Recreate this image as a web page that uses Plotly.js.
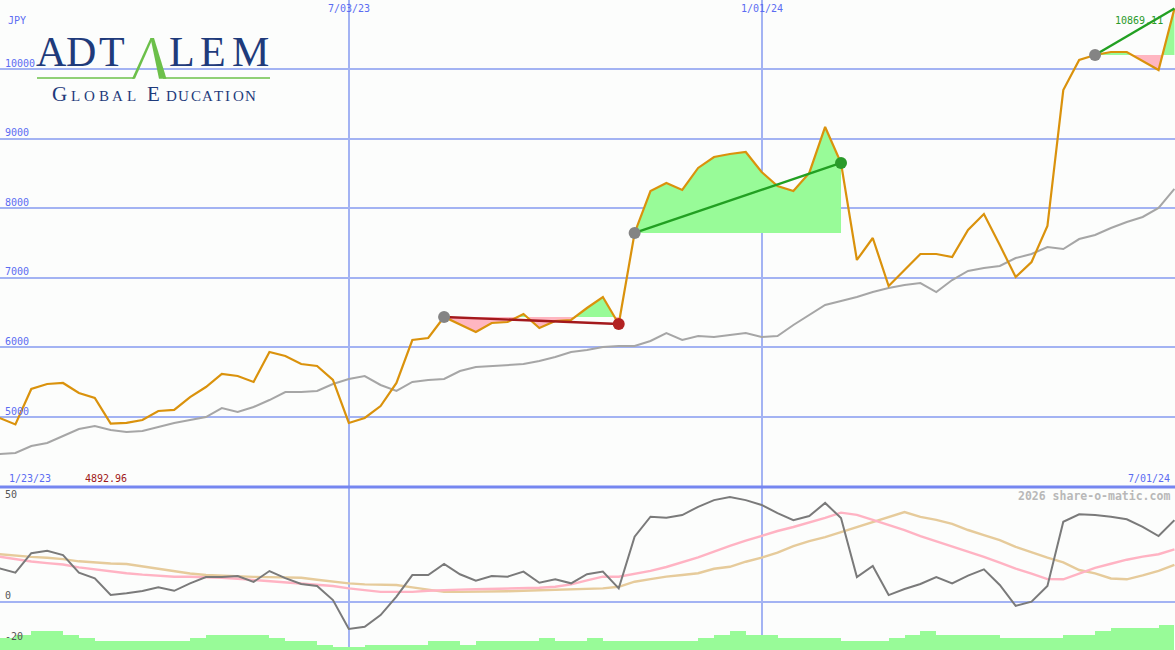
<!DOCTYPE html>
<html><head><meta charset="utf-8">
<script src="https://cdn.plot.ly/plotly-3.0.1.min.js"></script>
<style>html,body{margin:0;padding:0;background:#fcfdfc;} #chart{width:1175px;height:650px;}</style>
</head><body><div id="chart"></div>
<script>
// ---- data ----
const weeks = ['2023-01-30','2023-02-06','2023-02-13','2023-02-20','2023-02-27','2023-03-06','2023-03-13','2023-03-20','2023-03-27','2023-04-03','2023-04-10','2023-04-17','2023-04-24','2023-05-01','2023-05-08','2023-05-15','2023-05-22','2023-05-29','2023-06-05','2023-06-12','2023-06-19','2023-06-26','2023-07-03','2023-07-10','2023-07-17','2023-07-24','2023-07-31','2023-08-07','2023-08-14','2023-08-21','2023-08-28','2023-09-04','2023-09-11','2023-09-18','2023-09-25','2023-10-02','2023-10-09','2023-10-16','2023-10-23','2023-10-30','2023-11-06','2023-11-13','2023-11-20','2023-11-27','2023-12-04','2023-12-11','2023-12-18','2023-12-25','2024-01-01','2024-01-08','2024-01-15','2024-01-22','2024-01-29','2024-02-05','2024-02-12','2024-02-19','2024-02-26','2024-03-04','2024-03-11','2024-03-18','2024-03-25','2024-04-01','2024-04-08','2024-04-15','2024-04-22','2024-04-29','2024-05-06','2024-05-13','2024-05-20','2024-05-27','2024-06-03','2024-06-10','2024-06-17','2024-06-24','2024-07-01'];
const price = [4986,4892.96,5402,5474,5489,5345,5273,4905,4915,4957,5086,5101,5287,5431,5618,5589,5503,5934,5876,5761,5733,5532,4914,4986,5158,5489,6106,6135,6437,6329,6221,6351,6365,6480,6279,6379,6394,6566,6724,6336,7644,8247,8362,8262,8578,8736,8779,8808,8520,8319,8247,8506,9167,8650,7256,7572,6882,7112,7342,7342,7299,7687,7917,7471,7011,7227,7744,9698,10129,10201,10244,10244,10115,9986,10869.11];
const priceAvg = [4468,4483,4583,4626,4727,4828,4871,4813,4784,4799,4856,4914,4957,5000,5129,5072,5144,5244,5359,5359,5374,5474,5546,5589,5460,5374,5503,5532,5546,5661,5718,5733,5747,5761,5805,5862,5934,5963,6006,6020,6020,6092,6207,6106,6164,6149,6178,6207,6149,6164,6322,6466,6609,6667,6724,6796,6853,6897,6925,6796,6968,7098,7141,7170,7284,7342,7443,7414,7557,7615,7716,7802,7874,8003,8276];
const osc = [16.5,14.4,24.0,25.2,23.1,14.4,11.6,3.3,4.2,5.3,7.1,5.4,9.1,12.2,12.2,12.7,9.8,15.2,11.7,8.8,7.8,0.8,-13.5,-12.4,-6.6,2.5,13.2,13.2,18.7,13.6,10.4,12.7,12.4,14.9,9.4,11.1,9.1,13.6,14.9,6.6,32.2,42.1,41.6,42.9,47.0,50.3,51.8,50.3,47.9,43.9,40.4,42.4,48.9,41.4,12.2,17.7,3.3,6.3,8.8,12.2,9.1,12.9,16.0,8.3,-2.0,0,7.8,39.6,43.3,42.9,42.1,40.8,37.1,32.5,40.4];
const oscFast = [22.3,21.0,19.9,19.1,18.4,17.0,16.0,15.0,14.1,13.4,12.8,12.4,12.4,12.2,11.8,11.4,10.8,10.2,9.5,8.8,8.3,7.8,6.6,5.6,4.9,4.9,4.9,5.4,5.8,6.0,6.2,6.3,6.5,6.7,6.9,7.4,8.6,10.6,12.4,12.4,13.8,15.3,17.2,19.6,22.0,24.8,27.7,30.2,32.6,35.0,37.0,39.2,41.5,44.1,43.0,40.5,38.0,35.5,32.5,30.0,27.4,25.0,22.2,19.3,16.4,13.9,11.2,11.1,13.9,16.8,18.8,20.8,22.3,23.5,25.9];
const oscSlow = [23.5,22.7,22.2,21.8,21.1,20.0,19.4,18.9,18.7,17.5,16.5,15.0,14.0,13.2,12.8,12.4,12.3,12.2,12.0,11.9,10.9,9.9,9.1,8.6,8.4,8.3,7.1,5.9,4.9,4.9,4.9,5.0,5.2,5.4,5.6,5.8,6.1,6.2,6.6,7.4,9.9,11.2,12.4,13.2,14.1,16.3,17.3,19.8,21.8,24.3,27.5,30.0,32.0,34.5,37.0,39.5,42.0,44.4,42.0,40.5,38.5,35.5,33.0,30.5,27.2,24.5,21.8,19.5,15.7,14.0,11.5,11.1,13.0,15.3,18.2];
const volume = [12.3,15,19,19,15,12.3,9,9,9,9,9,9,12.3,15,15,15,15,12.3,9,9,5.5,2.7,2.7,5.5,5.5,5.5,5.5,9,9,5.5,9,9,9,9,12.3,9,9,12.3,9,9,9,9,9,9,12.3,15,19,15,15,12.3,12.3,12.3,12.3,9,9,9,12.3,15,19,15,15,15,15,12.3,12.3,12.3,12.3,15,15,19,22,22,22,25];
const yTicks = [5000,6000,7000,8000,9000,10000];
const oscTicks = [50,0,-20];
const dateTicks = ['2023-07-03','2024-01-01'];
const dateLabels = ['7/03/23','1/01/24'];
const trends = [{from:28,to:39,line:'#a3191c',end:'#b32222'},{from:40,to:53,line:'#22a022',end:'#2a9a2a'},{from:69,to:74,line:'#22a022',end:null}];

// ---- helpers ----
const DAY = 86400000;
const ms = d => new Date(d.length>10 ? d.replace(' ','T')+'Z' : d+'T00:00:00Z').getTime();
const iso = t => new Date(t).toISOString().slice(0,19).replace('T',' ');
const P = (x,y) => [x/1175, 1-y/650];
function path(pts){return 'M'+pts.map(p=>{const q=P(p[0],p[1]);return q[0].toFixed(5)+','+q[1].toFixed(5);}).join(' L')+' Z';}

const traces = [];
// fills for trend segments
trends.forEach(tr => {
  const base = price[tr.from];
  const xs=[], ys=[];
  for(let k=tr.from;k<=tr.to;k++){
    if(k>tr.from){
      const p0=price[k-1]-base, p1=price[k]-base;
      if(p0*p1<0){
        const f=p0/(p0-p1);
        xs.push(iso(ms(weeks[k-1])+f*(ms(weeks[k])-ms(weeks[k-1])))); ys.push(base);
      }
    }
    xs.push(weeks[k]); ys.push(price[k]);
  }
  const baseY = xs.map(()=>base);
  traces.push({x:xs,y:baseY,mode:'lines',line:{width:0},hoverinfo:'skip'});
  traces.push({x:xs,y:ys.map(v=>Math.max(v,base)),mode:'lines',line:{width:0},fill:'tonexty',fillcolor:'#98fb98',hoverinfo:'skip'});
  traces.push({x:xs,y:baseY,mode:'lines',line:{width:0},hoverinfo:'skip'});
  traces.push({x:xs,y:ys.map(v=>Math.min(v,base)),mode:'lines',line:{width:0},fill:'tonexty',fillcolor:'#ffb6c1',hoverinfo:'skip'});
});
// price average and price
traces.push({x:weeks,y:priceAvg,mode:'lines',line:{color:'#a6a6a6',width:2}});
traces.push({x:weeks,y:price,mode:'lines',line:{color:'#da920c',width:2.2}});
// trend lines and markers
trends.forEach(tr => {
  traces.push({x:[weeks[tr.from],weeks[tr.to]],y:[price[tr.from],price[tr.to]],mode:'lines',line:{color:tr.line,width:2.4}});
  traces.push({x:[weeks[tr.from]],y:[price[tr.from]],mode:'markers',marker:{color:'#848484',size:12}});
  if(tr.end) traces.push({x:[weeks[tr.to]],y:[price[tr.to]],mode:'markers',marker:{color:tr.end,size:12}});
});
// lower panel
const barX = volume.map((v,k)=>iso((ms(weeks[k])+ms(weeks[k+1]))/2));
traces.push({type:'bar',x:barX,y:volume,width:volume.map(()=>7*DAY),marker:{color:'#98fb98',line:{width:0}},xaxis:'x',yaxis:'y3'});
traces.push({x:weeks,y:oscSlow,mode:'lines',line:{color:'#e6cb9b',width:2.4},yaxis:'y2'});
traces.push({x:weeks,y:oscFast,mode:'lines',line:{color:'#ffb3c3',width:2.4},yaxis:'y2'});
traces.push({x:weeks,y:osc,mode:'lines',line:{color:'#7a7a7a',width:2},yaxis:'y2'});

const mono = 'DejaVu Sans Mono';
const blue = '#5b6cf2';
const annotations = [];
function txt(text,x,y,anchor,color,size,extra){annotations.push(Object.assign({text:text,xref:'paper',yref:'paper',x:x/1175,y:1-y/650,xanchor:anchor,yanchor:'middle',showarrow:false,font:{family:mono,size:size||10,color:color}},extra||{}));}
txt('JPY',6,20,'left',blue);
dateTicks.forEach((d,i)=>annotations.push({text:dateLabels[i],xref:'x',x:d,yref:'paper',y:1-8/650,xanchor:'center',yanchor:'middle',showarrow:false,font:{family:mono,size:10,color:blue}}));
txt('1/23/23',7,478,'left',blue);
txt(Math.min(...price).toFixed(2),83,478,'left','#a01818');
txt('7/01/24',1172,478,'right',blue);
txt(price[price.length-1].toFixed(2),1165,21,'right','#2a9a2a');
txt('<b>2026 share-o-matic.com</b>',1172,496,'right','#b8b8b8',11.5);
// logo letters (decoration)
const navy = '#1f3b7b';
const logoLetters = ['A','D','T','L','E','M'];
const logoX = [51,81,112,182,213,250];
logoLetters.forEach((c,i)=>annotations.push({text:c,xref:'paper',yref:'paper',x:logoX[i]/1175,y:1-52/650,xanchor:'center',yanchor:'middle',showarrow:false,font:{family:'Liberation Serif',size:42,color:navy}}));
const subLetters = ['G','L','O','B','A','L','E','D','U','C','A','T','I','O','N'];
const subX = [59.5,75,89,103.5,117.5,131.5,153,171,183.5,195.5,207,218.5,227.5,238,250];
const subBig = [1,0,0,0,0,0,1,0,0,0,0,0,0,0,0];
subLetters.forEach((c,i)=>{const s=subBig[i]?21:15;annotations.push({text:c,xref:'paper',yref:'paper',x:subX[i]/1175,y:1-(102+0.216*s+1)/650,xanchor:'center',yanchor:'bottom',showarrow:false,font:{family:'Liberation Serif',size:s,color:navy}});});

const green = '#6cc04a';
const shapes = [
  {type:'path',xref:'paper',yref:'paper',path:path([[37,77.3],[134,77.3],[134,78.7],[37,78.7]]),fillcolor:green,line:{width:0}},
  {type:'path',xref:'paper',yref:'paper',path:path([[163,77.3],[270,77.3],[270,78.7],[163,78.7]]),fillcolor:green,line:{width:0}},
  {type:'path',xref:'paper',yref:'paper',path:path([[132,78.7],[135,78.7],[153,38],[150.5,38]]),fillcolor:green,line:{width:0}},
  {type:'path',xref:'paper',yref:'paper',path:path([[150.5,38],[154,38],[166.5,78.7],[159,78.7]]),fillcolor:green,line:{width:0}},
  {type:'line',xref:'paper',yref:'paper',x0:0,x1:1,y0:1-487/650,y1:1-487/650,line:{color:'#7586f0',width:3}}
];

const layout = {
  width:1175,height:650,margin:{l:0,r:0,t:0,b:0,pad:0},
  paper_bgcolor:'#fcfdfc',plot_bgcolor:'#fcfdfc',showlegend:false,bargap:0,
  xaxis:{type:'date',range:['2023-01-30 05:00','2024-07-01 06:00'],tickvals:dateTicks,showgrid:true,gridcolor:'#a3b3f3',gridwidth:2,showticklabels:false,zeroline:false,showline:false,ticks:''},
  yaxis:{domain:[1-487/650,1],range:[3994.3,10991.4],tickvals:yTicks,ticktext:yTicks.map(String),showgrid:true,gridcolor:'#a3b3f3',gridwidth:2,zeroline:false,showline:false,ticks:'',ticklabelposition:'inside',ticklabelshift:-6,ticklabelstandoff:2,tickfont:{family:mono,size:10,color:blue}},
  yaxis2:{domain:[0,1-488/650],range:[-23.9,56.3],tickvals:oscTicks,ticktext:oscTicks.map(String),showgrid:false,zeroline:true,zerolinecolor:'#a3b3f3',zerolinewidth:2,showline:false,ticks:'',ticklabelposition:'inside',ticklabelshift:-6,ticklabelstandoff:2,tickfont:{family:mono,size:10,color:'#555555'}},
  yaxis3:{overlaying:'y2',range:[0,162],visible:false,showgrid:false,zeroline:false},
  annotations:annotations,shapes:shapes
};
Plotly.newPlot('chart',traces,layout,{displayModeBar:false,staticPlot:true});
</script></body></html>
